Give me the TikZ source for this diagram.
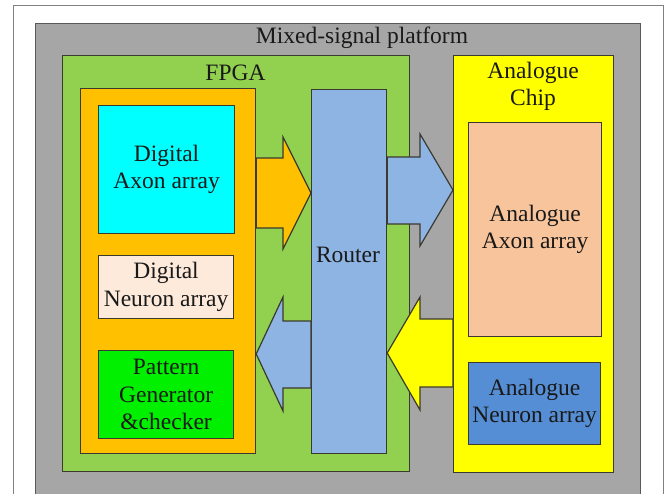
\documentclass[tikz,border=0pt]{standalone}
\usepackage{fontspec}
\setmainfont{Liberation Serif}
\newfontfamily\diagfont{Liberation Serif}
\usepackage{tikz}

\definecolor{edge}{HTML}{3A3A2E}
\definecolor{framec}{HTML}{808080}
\definecolor{platc}{HTML}{A6A6A6}
\definecolor{fpgac}{HTML}{92D050}
\definecolor{orngc}{HTML}{FFC000}
\definecolor{axonc}{HTML}{00FFFF}
\definecolor{neurc}{HTML}{FDEADA}
\definecolor{pattc}{HTML}{00F000}
\definecolor{rtrc}{HTML}{8EB4E3}
\definecolor{chipc}{HTML}{FFFF00}
\definecolor{aaxc}{HTML}{F8C49C}
\definecolor{aneuc}{HTML}{558ED5}

\tikzset{
  box/.style={draw=edge, rectangle, line width=1.2pt, align=center, anchor=north west, inner sep=0pt, text=black!90, font=\diagfont\fontsize{23.5}{27.5}\selectfont},
  blk/.style={draw=edge, line width=1.2pt, line join=miter},
  txt/.style={align=center, inner sep=0pt, text=black!90, font=\diagfont\fontsize{23.5}{27}\selectfont}
}

\begin{document}
\begin{tikzpicture}[x=1pt, y=-1pt]
    \clip (0,0) rectangle (671,494);
    \draw
    (12.5,5.5)node[rectangle, draw=framec, line width=0.8pt, minimum width=650pt, minimum height=520pt, anchor=north west](page){}
    (35,23)node[box, draw=black!65, line width=1pt, fill=platc, minimum width=605pt, minimum height=500pt](plat){}
    (362,38)node[txt](platlbl){Mixed-signal platform}

    (62,55)node[box, fill=fpgac, minimum width=347pt, minimum height=416pt](fpga){}
    (235.5,73)node[txt](fpgalbl){FPGA}
    (80,88)node[box, fill=orngc, minimum width=175pt, minimum height=365pt](orng){}
    (98,105)node[box, fill=axonc, minimum width=136pt, minimum height=128pt](dax){Digital\\Axon array}
    (98,255)node[box, fill=neurc, minimum width=135pt, minimum height=63pt](dneu){Digital\\Neuron array}
    (98,350)node[box, fill=pattc, minimum width=135pt, minimum height=88pt](patt){Pattern\\Generator\\\&checker}
    (311,89)node[box, fill=rtrc, minimum width=75pt, minimum height=364pt](rtr){}
    (348,255)node[txt](rtrlbl){Router}

    (453,55)node[box, fill=chipc, minimum width=160pt, minimum height=417pt](chip){}
    (533,86)node[txt](chiplbl){Analogue\\Chip}
    (468,122)node[box, fill=aaxc, minimum width=133pt, minimum height=214pt](aax){Analogue\\Axon array}
    (468,362)node[box, fill=aneuc, minimum width=132pt, minimum height=82pt](aneu){Analogue\\Neuron array}
    ;

    % block arrows between the boxes
    \draw[blk, fill=orngc] (orng.east |- 0,158) -| (283,137) -- (rtr.west |- 0,193) -- (283,249) |- (orng.east |- 0,228) -- cycle;
    \draw[blk, fill=rtrc] (rtr.east |- 0,157) -| (420,134) -- (chip.west |- 0,190) -- (420,246) |- (rtr.east |- 0,224) -- cycle;
    \draw[blk, fill=chipc] (chip.west |- 0,319) -| (420,297) -- (rtr.east |- 0,353) -- (420,410) |- (chip.west |- 0,387) -- cycle;
    \draw[blk, fill=rtrc] (rtr.west |- 0,321) -| (283,297) -- (orng.east |- 0,354) -- (283,411) |- (rtr.west |- 0,388) -- cycle;
\end{tikzpicture}
\end{document}
